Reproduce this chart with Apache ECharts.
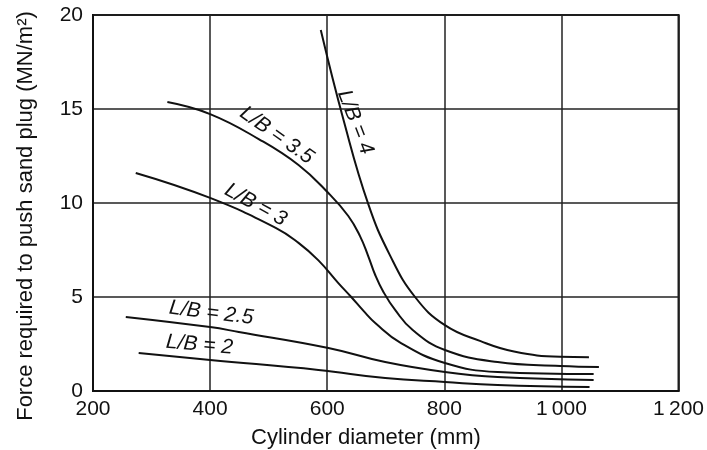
<!DOCTYPE html>
<html>
<head>
<meta charset="utf-8">
<script src="https://cdn.jsdelivr.net/npm/echarts@6/dist/echarts.min.js"></script>
<style>
html,body{margin:0;padding:0;background:#fff;}
#chart{width:707px;height:450px;}
</style>
</head>
<body>
<div id="chart"></div>
<script>
// ---- data ----
var xTicks = [200, 400, 600, 800, 1000, 1200];
var yTicks = [0, 5, 10, 15, 20];
var xTitle = 'Cylinder diameter (mm)';
var yTitle = 'Force required to push sand plug (MN/m\u00B2)';

var lb4  = [[589,19.2],[628,14.4],[670,9.95],[707,7.23],[750,5.0],[801,3.5],[862,2.65],[919,2.1],[998,1.82],[1047,1.8]];
var lb35 = [[327,15.37],[400,14.73],[483,13.4],[551,12.02],[602,10.53],[636,9.31],[656,8.24],[670,7.18],[682,6.17],[696,5.27],[716,4.31],[746,3.24],[801,2.18],[891,1.54],[998,1.33],[1064,1.28]];
var lb3  = [[273,11.6],[400,10.27],[512,8.68],[551,7.88],[585,6.95],[619,5.74],[641,5.0],[662,4.26],[682,3.62],[726,2.55],[801,1.49],[891,1.01],[1055,0.9]];
var lb25 = [[256,3.94],[400,3.4],[449,3.14],[602,2.29],[699,1.54],[801,1.01],[891,0.74],[1055,0.59]];
var lb2  = [[278,2.02],[400,1.65],[585,1.12],[699,0.69],[801,0.48],[891,0.32],[1048,0.21]];

var curveNames = ['L/B = 4', 'L/B = 3.5', 'L/B = 3', 'L/B = 2.5', 'L/B = 2'];
// label anchor positions (data space) and rotation in degrees
var labelAnchors = [[648,14.3],[514,13.6],[478,9.9],[402,4.15],[382,2.45]];
var labelAngles  = [-69, -35, -29, -7, -5];

var curves = [lb4, lb35, lb3, lb25, lb2];

var FONT = '"Liberation Sans", Arial, Helvetica, sans-serif';
var chart = echarts.init(document.getElementById('chart'), null, {renderer:'canvas'});

var series = curves.map(function(d, i){
  return {
    name: curveNames[i], type: 'line', data: d,
    smooth: 0.45, showSymbol: false, symbol: 'none',
    lineStyle: {color: '#111', width: 2}, silent: true, z: 5
  };
});

var option = {
  backgroundColor: '#fff',
  animation: false,
  grid: {left: 93, right: 25, top: 15, bottom: 59, show: true, borderColor: '#111', borderWidth: 2, backgroundColor: 'transparent'},
  xAxis: {
    type: 'value', min: xTicks[0], max: xTicks[xTicks.length-1], interval: 200,
    axisLine: {show: true, lineStyle: {color: '#111', width: 2}},
    axisTick: {show: false},
    splitLine: {show: true, lineStyle: {color: '#222', width: 1.5}},
    axisLabel: {color: '#111', fontSize: 21, fontFamily: FONT, margin: 8,
      formatter: function(v){ return v >= 1000 ? String(v).replace(/^(\d)(\d{3})$/, '$1\u2009$2') : String(v); }}
  },
  yAxis: {
    type: 'value', min: yTicks[0], max: yTicks[yTicks.length-1], interval: 5,
    axisLine: {show: true, lineStyle: {color: '#111', width: 2}},
    axisTick: {show: false},
    splitLine: {show: true, lineStyle: {color: '#222', width: 1.5}},
    axisLabel: {color: '#111', fontSize: 21, fontFamily: FONT, margin: 10}
  },
  series: series
};
chart.setOption(option);

var graphics = [];
curveNames.forEach(function(n, i){
  var p = chart.convertToPixel({gridIndex: 0}, labelAnchors[i]);
  graphics.push({
    type: 'text', x: p[0], y: p[1], rotation: labelAngles[i] * Math.PI / 180, z: 10,
    style: {text: n, fill: '#111', font: 'italic 21px ' + FONT, textAlign: 'center', textVerticalAlign: 'middle'}
  });
});
graphics.push({
  type: 'text', x: 366, y: 438, z: 10,
  style: {text: xTitle, fill: '#111', font: '22px ' + FONT, textAlign: 'center', textVerticalAlign: 'middle'}
});
graphics.push({
  type: 'text', x: 26, y: 216, rotation: Math.PI / 2, z: 10,
  style: {text: yTitle, fill: '#111', font: '22px ' + FONT, textAlign: 'center', textVerticalAlign: 'middle'}
});
chart.setOption({graphic: graphics});
</script>
</body>
</html>
